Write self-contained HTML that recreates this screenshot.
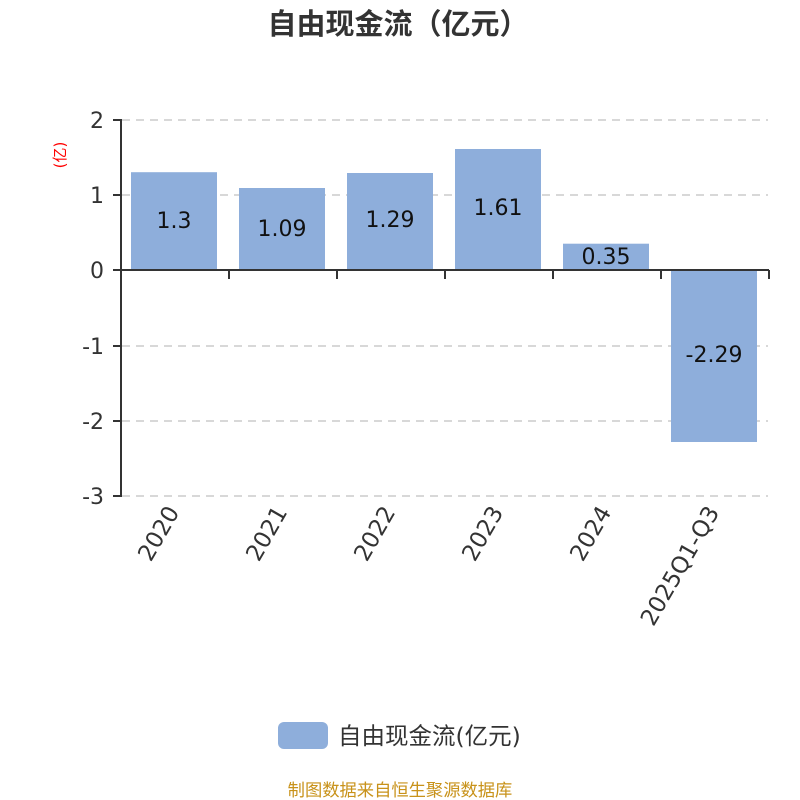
<!DOCTYPE html>
<html><head><meta charset="utf-8"><style>body{margin:0;background:#fff}svg{display:block}</style></head><body>
<svg width="800" height="800" xmlns="http://www.w3.org/2000/svg" font-family="'DejaVu Sans','Noto Sans CJK SC',sans-serif">
<text x="398" y="34" text-anchor="middle" font-size="29" font-weight="bold" fill="#333" font-family="'Noto Sans CJK SC',sans-serif">自由现金流（亿元）</text>
<text transform="translate(65,155) rotate(-90)" text-anchor="middle" font-size="15" fill="#f00">(亿)</text>
<g stroke="#ccc" stroke-width="1.5" stroke-dasharray="8,6">
<line x1="122" y1="120" x2="768" y2="120"/><line x1="122" y1="195" x2="768" y2="195"/>
<line x1="122" y1="346" x2="768" y2="346"/><line x1="122" y1="421" x2="768" y2="421"/><line x1="122" y1="496" x2="768" y2="496"/>
</g>
<g fill="#8eaedb">
<rect x="131" y="172.2" width="86" height="97.8"/>
<rect x="239" y="188" width="86" height="82"/>
<rect x="347" y="173" width="86" height="97"/>
<rect x="455" y="149" width="86" height="121"/>
<rect x="563" y="243.7" width="86" height="26.3"/>
<rect x="671" y="270" width="86" height="172"/>
</g>
<g stroke="#333" stroke-width="2">
<line x1="121" y1="119" x2="121" y2="497"/>
<line x1="113" y1="120" x2="121" y2="120"/><line x1="113" y1="195" x2="121" y2="195"/><line x1="113" y1="270" x2="121" y2="270"/>
<line x1="113" y1="346" x2="121" y2="346"/><line x1="113" y1="421" x2="121" y2="421"/><line x1="113" y1="496" x2="121" y2="496"/>
<line x1="121" y1="270" x2="769" y2="270"/>
<line x1="229" y1="270" x2="229" y2="279"/><line x1="337" y1="270" x2="337" y2="279"/><line x1="445" y1="270" x2="445" y2="279"/>
<line x1="553" y1="270" x2="553" y2="279"/><line x1="661" y1="270" x2="661" y2="279"/><line x1="769" y1="270" x2="769" y2="279"/>
</g>
<g font-size="22" fill="#333" text-anchor="end">
<text x="104" y="128">2</text><text x="104" y="203">1</text><text x="104" y="278">0</text>
<text x="104" y="354">-1</text><text x="104" y="429">-2</text><text x="104" y="504">-3</text>
</g>
<g font-size="22" fill="#111" text-anchor="middle">
<text x="174" y="228">1.3</text><text x="282" y="236">1.09</text><text x="390" y="227">1.29</text>
<text x="498" y="215">1.61</text><text x="606" y="264">0.35</text><text x="714" y="362">-2.29</text>
</g>
<g font-size="23" fill="#333" text-anchor="end">
<text transform="translate(180,512) rotate(-60)">2020</text>
<text transform="translate(288,512) rotate(-60)">2021</text>
<text transform="translate(396,512) rotate(-60)">2022</text>
<text transform="translate(504,512) rotate(-60)">2023</text>
<text transform="translate(612,512) rotate(-60)">2024</text>
<text transform="translate(720,512) rotate(-60)">2025Q1-Q3</text>
</g>
<rect x="278" y="722" width="50" height="27" rx="6" fill="#8eaedb"/>
<text x="338" y="744" font-size="23.5" fill="#333">自由现金流(亿元)</text>
<text x="400" y="796" text-anchor="middle" font-size="17.3" fill="#c8921a">制图数据来自恒生聚源数据库</text>
</svg>
</body></html>
